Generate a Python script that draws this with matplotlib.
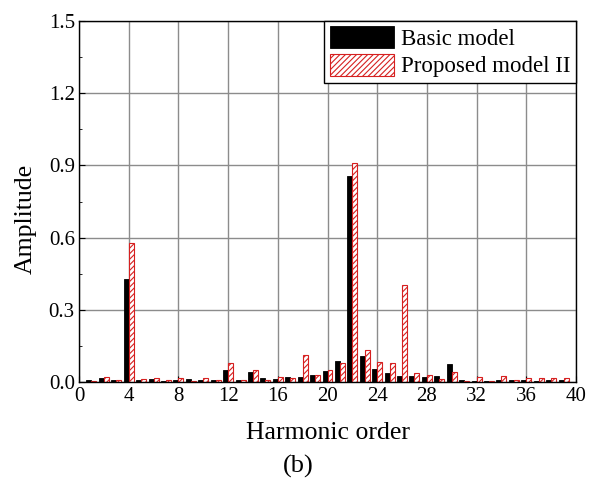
import matplotlib.pyplot as plt
import numpy as np

plt.rcParams['font.family'] = ['Liberation Serif', 'DejaVu Serif']
plt.rcParams['hatch.linewidth'] = 0.8

harmonics = np.arange(1, 40)
basic = [0.010, 0.018, 0.010, 0.430, 0.010, 0.016, 0.008, 0.010, 0.015, 0.011,
         0.010, 0.050, 0.010, 0.043, 0.017, 0.015, 0.021, 0.021, 0.033, 0.049,
         0.088, 0.855, 0.110, 0.055, 0.039, 0.028, 0.028, 0.022, 0.028, 0.076,
         0.011, 0.008, 0.006, 0.011, 0.009, 0.010, 0.008, 0.010, 0.011]
proposed = [0.005, 0.024, 0.010, 0.580, 0.015, 0.020, 0.009, 0.020, 0.005, 0.020,
            0.010, 0.080, 0.010, 0.053, 0.011, 0.024, 0.018, 0.115, 0.033, 0.050,
            0.080, 0.911, 0.135, 0.086, 0.082, 0.405, 0.038, 0.030, 0.014, 0.044,
            0.006, 0.022, 0.006, 0.028, 0.011, 0.017, 0.017, 0.017, 0.017]

fig = plt.figure(figsize=(5.96, 4.91), dpi=100)
ax = fig.add_axes([0.1326, 0.221, 0.8338, 0.737])

w = 0.4
ax.bar(harmonics - w / 2, basic, width=w, color='black', edgecolor='black',
       linewidth=0.6, label='Basic model', zorder=3)
ax.bar(harmonics + w / 2, proposed, width=w, color='white', edgecolor='#d62020',
       hatch='//////', linewidth=0.8, label='Proposed model II', zorder=3)

ax.set_xlim(0, 40)
ax.set_ylim(0, 1.5)
ax.set_xticks(np.arange(0, 41, 4))
ax.set_yticks(np.arange(0, 1.51, 0.3))
ax.set_yticks(np.arange(0.15, 1.5, 0.3), minor=True)
ax.set_yticklabels([f'{v:.1f}' for v in np.arange(0, 1.51, 0.3)])
ax.grid(True, which='major', color='#8c8c8c', linewidth=1.0, zorder=0)
ax.tick_params(which='both', direction='in', labelsize=15, top=False, right=False)
ax.tick_params(which='major', length=4, pad=3)
ax.tick_params(which='minor', length=2.5)
for s in ax.spines.values():
    s.set_linewidth(1.0)
    s.set_zorder(5)

ax.set_xlabel('Harmonic order', fontsize=18.5, labelpad=12)
ax.set_ylabel('Amplitude', fontsize=18.5)
ax.yaxis.set_label_coords(-0.085, 0.453)

leg = ax.legend(loc='upper right', fontsize=16.5, frameon=True, fancybox=False,
                edgecolor='black', framealpha=1, borderaxespad=0,
                handlelength=2.8, handleheight=1.1, handletextpad=0.3,
                borderpad=0.25, labelspacing=0.15)
leg.get_frame().set_linewidth(1.0)

fig.text(0.5, 0.05, '(b)', ha='center', va='center', fontsize=19)

fig.savefig('out.png', dpi=100)
